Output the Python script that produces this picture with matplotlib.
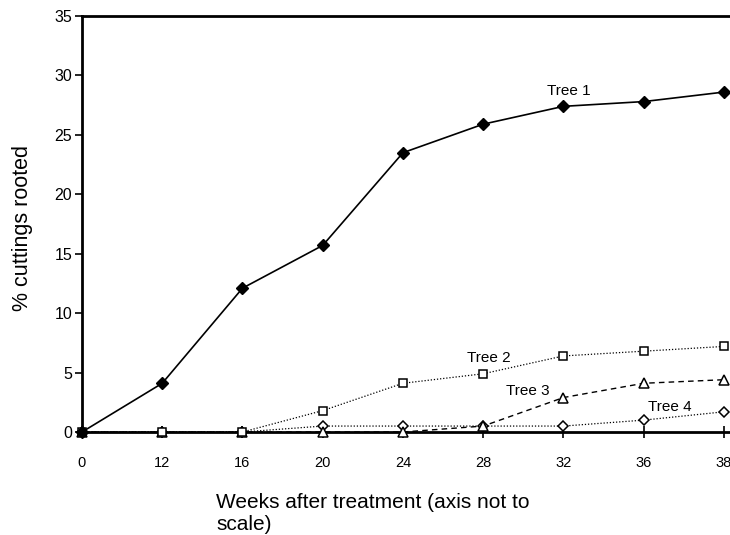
import matplotlib
matplotlib.use("Agg")
import matplotlib.pyplot as plt

plt.rcParams['font.family'] = ['Liberation Sans', 'DejaVu Sans']

weeks = ["0", "12", "16", "20", "24", "28", "32", "36", "38"]
tree1 = [0, 4.1, 12.1, 15.7, 23.5, 25.9, 27.4, 27.8, 28.6]
tree2 = [0, 0, 0, 1.8, 4.1, 4.9, 6.4, 6.8, 7.2]
tree3 = [0, 0, 0, 0, 0, 0.5, 2.9, 4.1, 4.4]
tree4 = [0, 0, 0, 0.5, 0.5, 0.5, 0.5, 1.0, 1.7]
yticks = [0, 5, 10, 15, 20, 25, 30, 35]

fig = plt.figure(figsize=(7.3, 5.35), dpi=100)
ax = fig.add_axes([82/730, 1-432/535, 1-82/730, (432-16)/535])

x = list(range(len(weeks)))
ax.plot(x, tree4, color='black', lw=0.9, ls=(0, (1, 1.5)), marker='D', ms=5,
        mfc='white', mec='black', mew=1.1, clip_on=False, zorder=3)
ax.plot(x, tree3, color='black', lw=1.0, ls=(0, (4, 3)), marker='^', ms=6.5,
        mfc='white', mec='black', mew=1.1, clip_on=False, zorder=3)
ax.plot(x, tree2, color='black', lw=0.9, ls=(0, (1, 1.5)), marker='s', ms=5.5,
        mfc='white', mec='black', mew=1.1, clip_on=False, zorder=3)
ax.plot(x, tree1, color='black', lw=1.2, ls='-', marker='D', ms=6.5,
        mfc='black', mec='black', clip_on=False, zorder=4)

ax.text(6.07, 28.7, "Tree 1", fontsize=11, ha='center', va='center')
ax.text(5.07, 6.2, "Tree 2", fontsize=11, ha='center', va='center')
ax.text(5.55, 3.45, "Tree 3", fontsize=11, ha='center', va='center')
ax.text(7.33, 2.1, "Tree 4", fontsize=11, ha='center', va='center')

ax.set_xlim(0, 8.075)
ax.set_ylim(0, 35)
ax.set_xticks(x)
ax.set_xticklabels(weeks, fontsize=10.5, family=['Liberation Sans Narrow', 'Liberation Sans'])
ax.set_yticks(yticks)
ax.set_yticklabels([str(v) for v in yticks], fontsize=11.5)

ax.tick_params(axis='x', direction='inout', length=8, width=1.2, pad=13)
ax.tick_params(axis='y', direction='out', length=5, width=1.2, pad=2)

for s in ['left', 'bottom', 'top']:
    ax.spines[s].set_linewidth(2)
ax.spines['right'].set_visible(False)

fig.text(23/730, 1-228/535, "% cuttings rooted", fontsize=15.5, rotation=90,
         ha='center', va='center')
fig.text(216/730, 1-513.5/535, "Weeks after treatment (axis not to\nscale)", fontsize=15,
         ha='left', va='center', linespacing=1.25)

fig.savefig("out.png", dpi=100)
